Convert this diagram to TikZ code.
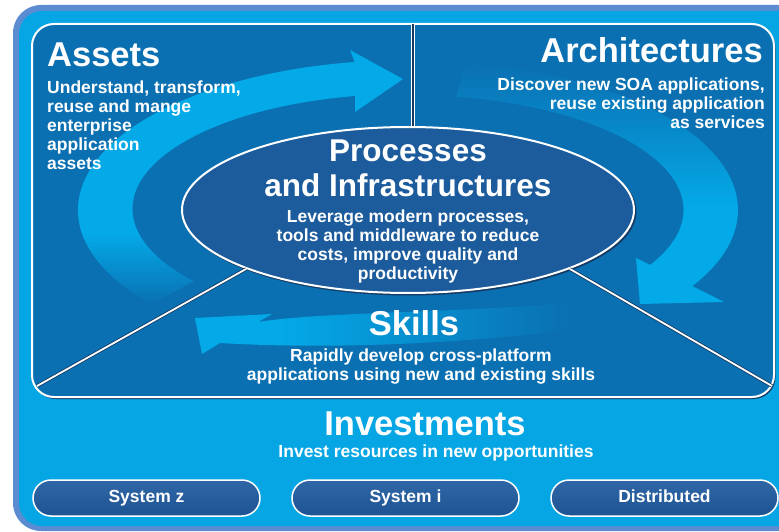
\documentclass[tikz,border=0pt]{standalone}
\usepackage{fontspec}
\setmainfont{Liberation Sans}
\usepackage{tikz}
\usetikzlibrary{shapes.geometric}
\definecolor{SoaEdge}{HTML}{5B8BD0}
\definecolor{SoaFrame}{HTML}{06A5E3}
\definecolor{SoaPanel}{HTML}{0A70B2}
\definecolor{SoaArrow}{HTML}{04A9E7}
\definecolor{SoaCore}{HTML}{1C5C9C}
\definecolor{SoaShade}{HTML}{153A63}
\definecolor{SoaBtnTop}{HTML}{2F67A6}
\definecolor{SoaBtnMid}{HTML}{4D86C2}
\definecolor{SoaBtnLow}{HTML}{1D5393}
\colorlet{SoaArrowDim}{SoaArrow!35!SoaPanel}

% fades for the cycle arrows
\pgfdeclareverticalshading{fadebottom}{100bp}{color(0bp)=(SoaPanel); color(25bp)=(SoaPanel); color(39bp)=(SoaArrow); color(100bp)=(SoaArrow)}
\pgfdeclareverticalshading{fadetop}{100bp}{color(0bp)=(SoaArrow); color(45bp)=(SoaArrow); color(64bp)=(SoaArrowDim); color(75bp)=(SoaPanel); color(100bp)=(SoaPanel)}
\pgfdeclarehorizontalshading{faderight}{100bp}{color(0bp)=(SoaArrow); color(36bp)=(SoaArrow); color(75bp)=(SoaPanel); color(100bp)=(SoaPanel)}

\begin{document}
\begin{tikzpicture}[x=1pt,y=1pt,
    hdr/.style={text=white,inner sep=0pt,font=\fontsize{34.5}{40}\selectfont\bfseries},
    txt/.style={text=white,inner sep=0pt,font=\fontsize{17.5}{19}\selectfont\bfseries},
    btn/.style={draw=white,line width=1.5pt,rounded corners=18pt,minimum width=227pt,minimum height=36pt,
      top color=SoaBtnTop,middle color=SoaBtnMid,bottom color=SoaBtnLow,
      text=white,font=\fontsize{17.5}{19}\selectfont\bfseries,text height=12.5pt,text depth=3.5pt}]
  \useasboundingbox (0,0) rectangle (779,531);

  % Outer frame
  \fill[SoaEdge,rounded corners=28pt] (13,0) rectangle (815,526);
  \fill[SoaFrame,rounded corners=23pt] (19,5) rectangle (815,520);

  % Inner panel
  \fill[SoaShade,rounded corners=22pt] (33.5,132) rectangle (775.5,505.5);
  \filldraw[fill=SoaPanel,draw=white,line width=2pt,rounded corners=22pt] (32,134) rectangle (774,507);

  % Cycle arrows
  \shade[shading=fadebottom] (151.5,226.6) arc[start angle=219,end angle=99.3,x radius=330,y radius=150]
    -- (350,481) -- (403,452) -- (355,419) -- (355,435)
    arc[start angle=101,end angle=219,x radius=275,y radius=115] -- cycle;
  \shade[shading=fadetop] (465.3,468.7) arc[start angle=80,end angle=-30.5,x radius=330,y radius=150]
    -- (724,229) -- (640,227) -- (636,273) -- (650,266)
    arc[start angle=-28.6,end angle=80,x radius=275,y radius=115] -- cycle;
  \shade[shading=faderight] (195,213) -- (272,217) -- (258,209)
    .. controls (320,219) and (450,218) .. (570,228) -- (570,201)
    .. controls (450,186) and (320,182) .. (220,188) -- (202,177) -- cycle;

  % Centre ellipse
  \fill[SoaShade] (409.5,319.5) ellipse[x radius=227,y radius=84];
  \node[ellipse,draw=white,line width=2pt,fill=SoaCore,minimum width=452pt,minimum height=166pt,inner sep=0pt] (core) at (408,321) {};

  % Dividers
  \coordinate (top) at (413,507);
  \coordinate (cornL) at (37,145);
  \coordinate (cornR) at (772,145);
  \draw[white,line width=3.4pt] (top) -- (top |- core.north);
  \draw[SoaShade,line width=1.6pt] (top) -- (top |- core.north);
  \draw[SoaShade,line width=3.4pt] (core.200) -- (cornL);
  \draw[white,line width=1.8pt] (core.200) -- (cornL);
  \draw[SoaShade,line width=3.4pt] (core.340) -- (cornR);
  \draw[white,line width=1.8pt] (core.340) -- (cornR);

  % Texts
  \node[hdr,anchor=base west] (assets) at (47,464) {Assets};
  \node[txt,anchor=north west,align=left] (assetsTxt) at (47,450.5)
    {Understand, transform,\\reuse and mange\\enterprise\\application\\assets};
  \node[hdr,anchor=base east] (arch) at (763,468) {Architectures};
  \node[txt,anchor=north east,align=right] (archTxt) at (765,453.7)
    {Discover new SOA applications,\\reuse existing application\\as services};
  \node[hdr,anchor=north,align=center,font=\fontsize{31.5}{35}\selectfont\bfseries] (proc) at (408,391.6)
    {Processes\\and Infrastructures};
  \node[txt,anchor=north,align=center] (procTxt) at (408,321.7)
    {Leverage modern processes,\\tools and middleware to reduce\\costs, improve quality and\\productivity};
  \node[hdr,anchor=base] (skills) at (414,196) {Skills};
  \node[txt,anchor=north,align=center] (skillsTxt) at (421,182.7)
    {Rapidly develop cross-platform\\applications using new and existing skills};
  \node[hdr,anchor=base] (invest) at (425,96) {Investments};
  \node[txt,anchor=base] (investTxt) at (436,74) {Invest resources in new opportunities};

  % Platform buttons
  \node[btn] (sysz) at (146.5,33) {System z};
  \node[btn] (sysi) at (405.5,33) {System i};
  \node[btn] (distr) at (664.5,33) {Distributed};
\end{tikzpicture}
\end{document}
